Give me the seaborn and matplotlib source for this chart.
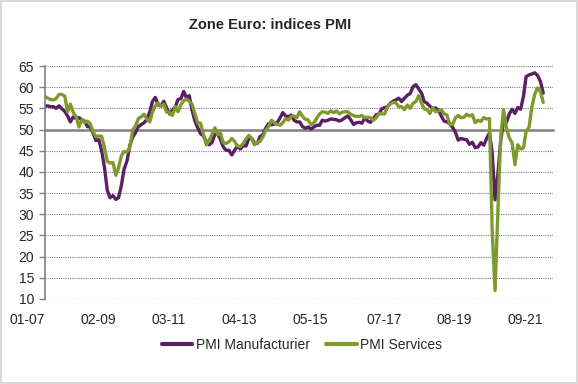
import matplotlib
matplotlib.use("Agg")
import matplotlib.pyplot as plt
import matplotlib.dates as mdates
import seaborn as sns
import pandas as pd
import numpy as np

# monthly PMI, Jan 2007 -> Sep 2021
pmi_manuf = [
    55.5, 55.6, 55.4, 55.4, 55.0, 55.6, 54.9, 54.3, 53.2, 51.8, 53.0, 52.6,  # 2007
    52.8, 52.3, 52.0, 50.7, 50.6, 49.2, 47.4, 47.6, 45.0, 41.1, 35.6, 33.9,  # 2008
    34.4, 33.5, 33.9, 36.8, 40.7, 42.6, 46.3, 48.2, 49.3, 50.7, 51.2, 51.6,  # 2009
    52.4, 54.2, 56.6, 57.6, 55.8, 55.6, 56.7, 55.1, 53.7, 54.6, 55.3, 57.1,  # 2010
    57.3, 59.0, 57.5, 58.0, 54.6, 52.0, 50.4, 49.0, 48.5, 47.1, 46.4, 46.9,  # 2011
    48.8, 49.0, 47.7, 45.9, 45.1, 45.1, 44.0, 45.1, 46.1, 45.4, 46.2, 46.1,  # 2012
    47.9, 47.9, 46.8, 46.7, 48.3, 48.8, 50.3, 51.4, 51.1, 51.3, 51.6, 52.7,  # 2013
    54.0, 53.2, 53.0, 53.4, 52.2, 51.8, 51.8, 50.7, 50.3, 50.6, 50.1, 50.6,  # 2014
    51.0, 51.0, 52.2, 52.0, 52.2, 52.5, 52.4, 52.3, 52.0, 52.3, 52.8, 53.2,  # 2015
    52.3, 51.2, 51.6, 51.7, 51.5, 52.8, 52.0, 51.7, 52.6, 53.5, 53.7, 54.9,  # 2016
    55.2, 55.4, 56.2, 56.7, 57.0, 57.4, 56.6, 57.4, 58.1, 58.5, 60.1, 60.6,  # 2017
    59.6, 58.6, 56.6, 56.2, 55.5, 54.9, 55.1, 54.6, 53.2, 52.0, 51.8, 51.4,  # 2018
    50.5, 49.3, 47.5, 47.9, 47.7, 47.6, 46.5, 47.0, 45.7, 45.9, 46.9, 46.3,  # 2019
    47.9, 49.2, 44.5, 33.4, 39.4, 47.4, 51.8, 51.7, 53.7, 54.8, 53.8, 55.2,  # 2020
    54.8, 57.9, 62.5, 62.9, 63.1, 63.4, 62.8, 61.4, 58.6,                    # 2021
]
pmi_services = [
    57.8, 57.4, 57.1, 57.0, 57.3, 58.3, 58.3, 57.9, 54.2, 56.0, 54.0, 53.1,  # 2007
    50.6, 52.3, 51.6, 52.0, 51.4, 49.5, 48.3, 48.5, 48.4, 45.8, 42.5, 42.1,  # 2008
    42.2, 39.2, 40.9, 43.8, 44.8, 44.7, 45.7, 49.9, 50.9, 52.6, 53.0, 53.6,  # 2009
    52.5, 51.8, 54.1, 55.6, 56.2, 55.5, 56.0, 54.1, 54.1, 53.3, 55.4, 54.2,  # 2010
    55.9, 56.8, 57.2, 56.7, 56.0, 53.7, 51.6, 51.5, 48.8, 46.4, 47.5, 48.8,  # 2011
    50.4, 48.8, 49.2, 46.9, 46.7, 47.1, 47.9, 47.2, 46.1, 46.0, 46.7, 47.8,  # 2012
    48.6, 47.9, 46.4, 47.0, 47.2, 48.3, 49.8, 50.7, 52.2, 51.6, 51.2, 51.0,  # 2013
    51.6, 52.6, 52.2, 53.1, 53.2, 52.8, 54.2, 53.1, 52.4, 52.3, 51.1, 51.6,  # 2014
    52.7, 53.7, 54.2, 54.1, 53.8, 54.4, 54.0, 54.4, 53.7, 54.1, 54.2, 54.2,  # 2015
    53.6, 53.3, 53.1, 53.1, 53.3, 52.8, 52.9, 52.8, 52.2, 52.8, 53.8, 53.7,  # 2016
    53.7, 55.5, 56.0, 56.4, 56.3, 55.4, 55.4, 54.7, 55.8, 55.0, 56.2, 56.6,  # 2017
    58.0, 56.2, 54.9, 54.7, 53.8, 55.2, 54.2, 54.4, 54.7, 53.7, 53.4, 51.2,  # 2018
    51.2, 52.8, 53.3, 52.8, 52.9, 53.6, 53.2, 53.5, 51.6, 52.2, 51.9, 52.8,  # 2019
    52.5, 52.6, 26.4, 12.0, 30.5, 48.3, 54.7, 50.5, 48.0, 46.9, 41.7, 46.4,  # 2020
    45.4, 45.7, 49.6, 50.5, 55.2, 58.3, 59.8, 59.0, 56.4,                    # 2021
]
months = pd.date_range("2007-01-01", periods=len(pmi_manuf), freq="MS")

tick_dates = ["2007-01-01", "2009-02-01", "2011-03-01", "2013-04-01",
              "2015-05-01", "2017-07-01", "2019-08-01", "2021-09-01"]
tick_labels = ["01-07", "02-09", "03-11", "04-13", "05-15", "07-17", "08-19", "09-21"]
y_ticks = list(range(10, 70, 5))

series_names = ["PMI Manufacturier", "PMI Services"]
colors = ["#5b1f62", "#7f9a2c"]

df = pd.DataFrame({"date": months,
                   series_names[0]: pmi_manuf,
                   series_names[1]: pmi_services})
long_df = df.melt(id_vars="date", var_name="serie", value_name="pmi")

sns.set_style("white")
plt.rcParams["font.family"] = ["Liberation Sans", "DejaVu Sans"]

fig = plt.figure(figsize=(5.78, 3.84), dpi=100)
ax = fig.add_axes([45 / 578, 1 - 299 / 384, 508 / 578, 233 / 384])

sns.lineplot(data=long_df, x="date", y="pmi", hue="serie", palette=colors,
             hue_order=series_names, linewidth=2.4, ax=ax, legend=False)

ax.set_ylim(10, 65)
ax.set_xlim(mdates.date2num(pd.Timestamp("2007-01-01")),
            mdates.date2num(pd.Timestamp("2021-12-15")))
ax.set_yticks(y_ticks)
ax.yaxis.grid(True, color="#808080", linestyle=(0, (1, 1)), linewidth=0.8)
ax.xaxis.grid(False)
ax.set_xlabel("")
ax.set_ylabel("")

for s in ["top", "right"]:
    ax.spines[s].set_visible(False)
ax.spines["left"].set_color("#808080")
ax.spines["left"].set_linewidth(1.2)
# category axis crosses at 50
ax.spines["bottom"].set_position(("data", 50))
ax.spines["bottom"].set_color("#808080")
ax.spines["bottom"].set_linewidth(1.8)
ax.spines["bottom"].set_zorder(1)

tick_nums = mdates.date2num(pd.to_datetime(tick_dates))
ax.set_xticks(tick_nums)
ax.tick_params(axis="x", direction="out", length=4, width=1.2, color="#808080",
               labelbottom=False)
ax.tick_params(axis="y", direction="out", length=4, width=1, color="#808080",
               labelsize=10, pad=4, left=True)

sec = ax.secondary_xaxis(0)
sec.set_xticks(tick_nums, tick_labels)
sec.tick_params(length=0, labelsize=10, pad=10)
sec.spines["bottom"].set_visible(False)
for lbl in sec.get_xticklabels():
    lbl.set_ha("right")

fig.text(270 / 578, 1 - 25 / 384, "Zone Euro: indices PMI", ha="center", va="center",
         fontsize=10.5, fontweight="bold")

handles = [plt.Line2D([], [], color=c, linewidth=3) for c in colors]
fig.legend(handles, series_names, loc="center", bbox_to_anchor=(302 / 578, 1 - 345 / 384),
           ncol=2, frameon=False, fontsize=10, handlelength=2.2, handletextpad=0.25,
           columnspacing=1.2)

fig.patch.set_edgecolor("#d9d9d9")
fig.patch.set_linewidth(1.5)

fig.savefig("out.png", dpi=100, edgecolor=fig.get_edgecolor())
